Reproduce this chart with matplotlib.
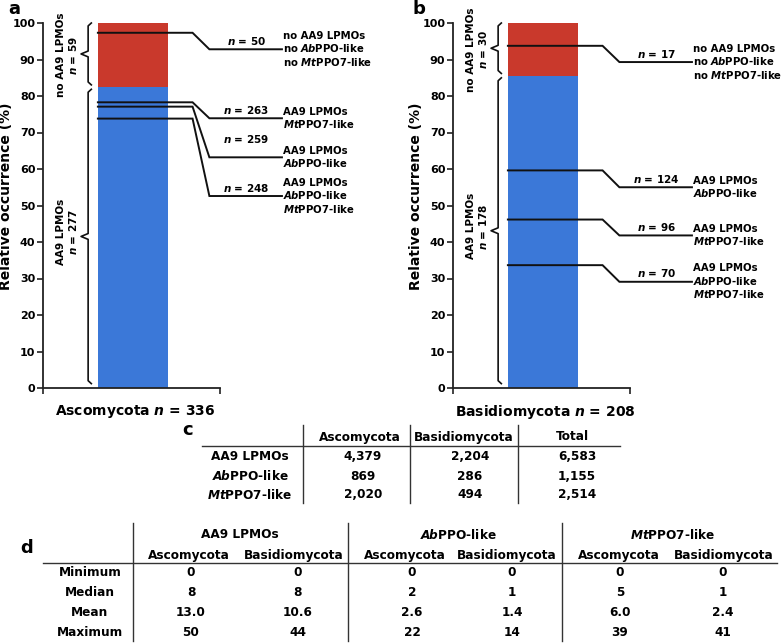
import matplotlib
matplotlib.use("Agg")
import matplotlib.pyplot as plt
from matplotlib.lines import Line2D

plt.rcParams["font.family"] = "DejaVu Sans"
plt.rcParams["font.weight"] = "bold"
plt.rcParams["mathtext.fontset"] = "custom"
plt.rcParams["mathtext.rm"] = "DejaVu Sans:bold"
plt.rcParams["mathtext.bf"] = "DejaVu Sans:bold"
plt.rcParams["mathtext.it"] = "DejaVu Sans:italic:bold"

# ---------------- data ----------------
groups = ["Ascomycota", "Basidiomycota"]
group_totals = [336, 208]
aa9_counts = [277, 178]
no_aa9_counts = [59, 30]

# subsets: (count, belongs to "no AA9" part?)
asco_subset_n = [50, 263, 259, 248]
basid_subset_n = [17, 124, 96, 70]
asco_subset_is_no = [True, False, False, False]
basid_subset_is_no = [True, False, False, False]

AB = r"$\mathit{A\hspace{-0.1}b}$"
MT = r"$\mathit{Mt}$"
lbl_none = f"no AA9 LPMOs\nno {AB}PPO-like\nno {MT}PPO7-like"
lbl_mt = f"AA9 LPMOs\n{MT}PPO7-like"
lbl_ab = f"AA9 LPMOs\n{AB}PPO-like"
lbl_both = f"AA9 LPMOs\n{AB}PPO-like\n{MT}PPO7-like"
asco_subset_labels = [lbl_none, lbl_mt, lbl_ab, lbl_both]
basid_subset_labels = [lbl_none, lbl_ab, lbl_mt, lbl_both]

# table c
tc_rows = ["AA9 LPMOs", f"{AB}PPO-like", f"{MT}PPO7-like"]
tc_cols = ["Ascomycota", "Basidiomycota", "Total"]
tc_asco = [4379, 869, 2020]
tc_basid = [2204, 286, 494]
tc_total = [6583, 1155, 2514]

# table d
td_groups = ["AA9 LPMOs", f"{AB}PPO-like", f"{MT}PPO7-like"]
td_rows = ["Minimum", "Median", "Mean", "Maximum"]
td_min = [0, 0, 0, 0, 0, 0]
td_median = [8, 8, 2, 1, 5, 1]
td_mean = [13.0, 10.6, 2.6, 1.4, 6.0, 2.4]
td_max = [50, 44, 22, 14, 39, 41]

# ---------------- layout ----------------
RED = "#c9392c"
BLUE = "#3b78d8"
W, H = 784, 643
fig = plt.figure(figsize=(7.84, 6.43), dpi=100)


def fx(x):
    return x / W


def fy(y):
    return 1 - y / H


def brace(ax, x, y0, y1, hook=0.018, tip=0.04):
    ym = (y0 + y1) / 2
    xs = [x + hook, x, x, x - tip, x, x, x + hook]
    ys = [y1, y1 - 0.8, ym + 0.8, ym, ym - 0.8, y0 + 0.8, y0]
    ax.plot(xs, ys, color="#111111", lw=1.2, clip_on=False)


def panel(left_px, total, aa9, no_aa9, subset_n, subset_is_no, subset_labels,
          label_y, n_offsets, name, letter, letter_x):
    ax = fig.add_axes([fx(left_px), fy(388), 177 / W, 365 / H])
    ax.set_xlim(0, 1)
    ax.set_ylim(0, 100)
    blue_top = aa9 / total * 100
    bar_l, bar_w = 0.31, 0.395
    ax.bar(bar_l, blue_top, width=bar_w, align="edge", color=BLUE, lw=0)
    ax.bar(bar_l, 100 - blue_top, bottom=blue_top, width=bar_w, align="edge",
           color=RED, lw=0)
    for s in ["top", "right"]:
        ax.spines[s].set_visible(False)
    for s in ["left", "bottom"]:
        ax.spines[s].set_color("#222222")
        ax.spines[s].set_linewidth(1.3)
    ax.set_yticks(range(0, 101, 10))
    ax.set_xticks([0, 1])
    ax.set_xticklabels([])
    ax.tick_params(axis="both", length=4, width=1.2, color="#222222",
                   labelsize=8, pad=1.5)
    ax.set_ylabel("Relative occurrence (%)", fontsize=10, fontweight="bold")
    ax.yaxis.set_label_coords(-0.168, 0.525)
    ax.set_xlabel(f"{name} $n$ = {total}", fontsize=10, fontweight="bold")
    ax.xaxis.set_label_coords(0.52, -0.04)

    # connectors
    for n, is_no, lab, ty, off in zip(subset_n, subset_is_no, subset_labels,
                                      label_y, n_offsets):
        y = (aa9 + n) / total * 100 if is_no else n / total * 100
        ax.plot([bar_l, 0.845, 0.94, 1.35], [y, y, ty, ty], color="#111111",
                lw=1.4, clip_on=False, solid_joinstyle="miter")
        ax.text(1.15, ty + off, f"$n$ = {n}", ha="center", va="center",
                fontsize=7.5)
        ax.text(1.357, ty, lab, ha="left", va="center", fontsize=7.3,
                linespacing=1.15)

    # braces
    brace(ax, 0.255, blue_top + 0.6, 100)
    brace(ax, 0.255, 1.2, blue_top - 0.6)
    ax.text(0.136, (blue_top + 100) / 2, f"no AA9 LPMOs\n$n$ = {no_aa9}",
            rotation=90, ha="center", va="center", fontsize=7.5,
            linespacing=1.1, multialignment="center")
    ax.text(0.136, blue_top / 2 + 1.5, f"AA9 LPMOs\n$n$ = {aa9}",
            rotation=90, ha="center", va="center", fontsize=7.5,
            linespacing=1.1, multialignment="center")
    fig.text(fx(letter_x), fy(9), letter, fontsize=13, fontweight="bold",
             ha="center", va="center")
    return ax


panel(43, group_totals[0], aa9_counts[0], no_aa9_counts[0], asco_subset_n,
      asco_subset_is_no, asco_subset_labels, [92.8, 73.9, 63.2, 52.6],
      [2.3, 2.3, 4.9, 2.3], groups[0], "a", 14)
panel(453, group_totals[1], aa9_counts[1], no_aa9_counts[1], basid_subset_n,
      basid_subset_is_no, basid_subset_labels, [89.3, 55.0, 41.8, 29.1],
      [2.3, 2.3, 2.3, 2.3], groups[1], "b", 419)


def hline(x0, x1, y, lw=1.0):
    fig.add_artist(Line2D([fx(x0), fx(x1)], [fy(y), fy(y)], color="#333333",
                          lw=lw))


def vline(x, y0, y1, lw=1.0):
    fig.add_artist(Line2D([fx(x), fx(x)], [fy(y0), fy(y1)], color="#333333",
                          lw=lw))


# ---------------- table c ----------------
fig.text(fx(188), fy(430), "c", fontsize=13, fontweight="bold", ha="center",
         va="center")
hline(202, 620, 446)
for x in [303, 410, 518]:
    vline(x, 425, 503)
for x, c in zip([360, 464, 572], tc_cols):
    fig.text(fx(x), fy(437), c, ha="center", va="center", fontsize=8.7)
for i, r in enumerate(tc_rows):
    y = [457, 476, 495][i]
    fig.text(fx(250), fy(y), r, ha="center", va="center", fontsize=8.7)
    for x, v in zip([363, 470, 577], [tc_asco[i], tc_basid[i], tc_total[i]]):
        fig.text(fx(x), fy(y), f"{v:,}", ha="center", va="center",
                 fontsize=8.7)

# ---------------- table d ----------------
fig.text(fx(27), fy(548), "d", fontsize=13, fontweight="bold", ha="center",
         va="center")
hline(43, 777, 563)
for x in [133, 348, 562]:
    vline(x, 523, 641)
for x, g in zip([240, 458, 673], td_groups):
    fig.text(fx(x), fy(535), g, ha="center", va="center", fontsize=8.7)
sub_x = [189, 294, 405, 507, 619, 724]
val_x = [191, 298, 412, 512, 620, 723]
for i, x in enumerate(sub_x):
    fig.text(fx(x), fy(555), groups[i % 2], ha="center", va="center",
             fontsize=8.7)
row_vals = [
    [str(v) for v in td_min],
    [str(v) for v in td_median],
    [f"{v:.1f}" for v in td_mean],
    [str(v) for v in td_max],
]
for j, (r, vals) in enumerate(zip(td_rows, row_vals)):
    y = [573, 593, 613, 632][j]
    fig.text(fx(90), fy(y), r, ha="center", va="center", fontsize=8.7)
    for x, v in zip(val_x, vals):
        fig.text(fx(x), fy(y), v, ha="center", va="center", fontsize=8.7)

fig.savefig("out.png", dpi=100)
